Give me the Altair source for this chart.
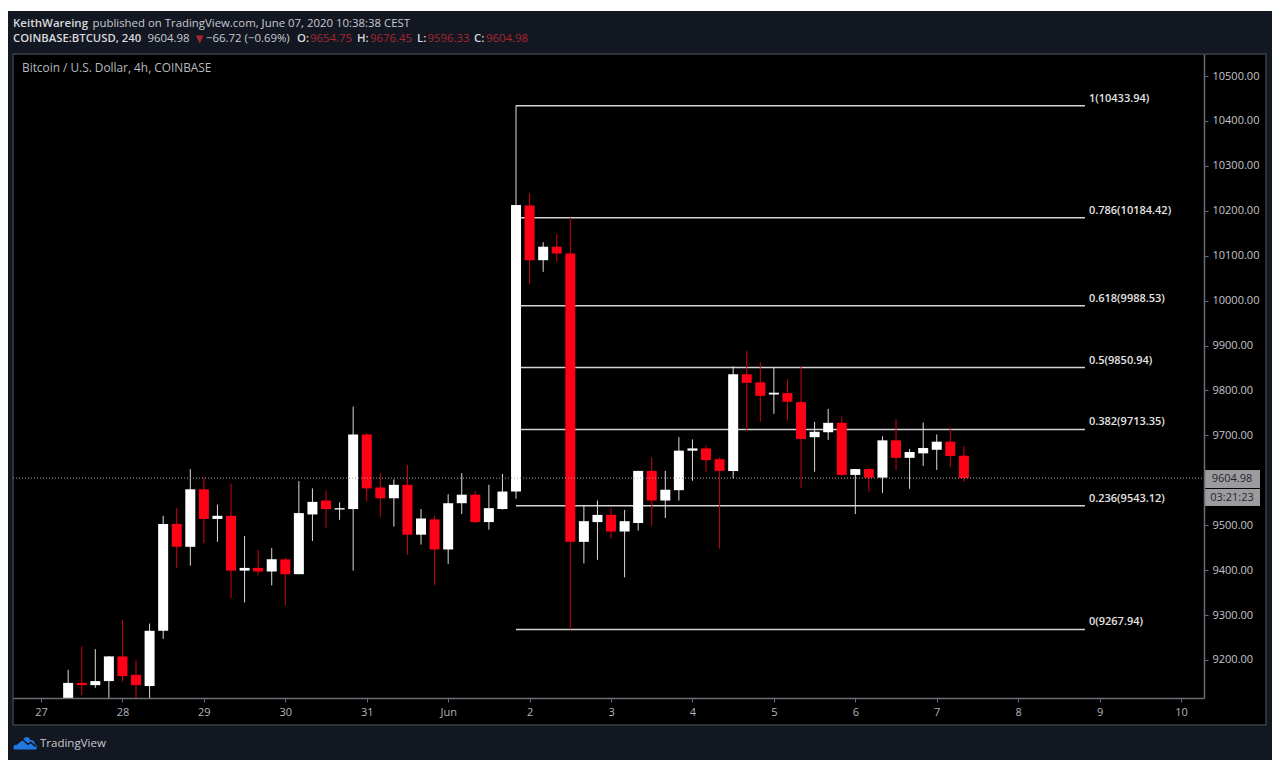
import altair as alt
import pandas as pd

opens = [9100,9149,9144,9153,9208,9167,9142,9265,9503,9452,9580,9514,9521,9399,9405,9397,9424,
         9391,9524,9555,9535,9536,9702,9584,9560,9590,9479,9513,9446,9549,9568,9507,9536,9575,
         10212,10090,10120,10105,9463,9507,9523,9486,9505,9621,9555,9578,9666,9671,9647,9621,
         9836,9818,9791,9794,9774,9696,9707,9728,9612,9625,9606,9689,9650,9660,9668,9686,9654.75]
closes = [9149,9144,9153,9208,9164,9144,9265,9503,9452,9580,9514,9521,9399,9405,9397,9424,9391,
          9527,9552,9536,9538,9702,9582,9560,9590,9479,9515,9446,9549,9568,9507,9538,9575,10213,
          10090,10120,10105,9463,9509,9523,9486,9509,9621,9555,9579,9666,9671,9645,9621,9836,
          9817,9788,9795,9775,9692,9708,9728,9612,9625,9606,9689,9650,9663,9672,9686,9654,9604.98]
highs = [9178,9230,9224,9209,9289,9200,9281,9521,9538,9625,9608,9546,9593,9476,9445,9449,9428,
         9598,9582,9577,9551,9764,9705,9616,9602,9634,9536,9521,9569,9616,9576,9590,9614,10435,
         10239,10130,10148,10185,9545,9555,9538,9534,9621,9651,9621,9696,9691,9678,9651,9854,
         9888,9863,9850,9825,9855,9730,9759,9742,9625,9627,9698,9736,9670,9729,9702,9717,9676.45]
lows = [9090,9122,9138,9100,9152,9116,9100,9247,9405,9410,9460,9463,9338,9328,9389,9366,9322,
        9391,9465,9494,9512,9399,9553,9519,9497,9434,9457,9367,9414,9525,9505,9490,9535,9559,
        10037,10064,10087,9268,9415,9423,9470,9384,9488,9499,9516,9555,9599,9618,9448,9604,
        9710,9730,9748,9733,9583,9619,9690,9610,9525,9575,9572,9623,9581,9632,9623,9629,9596.33]
first_bar = 2  # bars are counted in 4-hour steps from day 27
bar_days = [27 + (first_bar + i) / 6 for i in range(len(opens))]

fib_levels = ["1", "0.786", "0.618", "0.5", "0.382", "0.236", "0"]
fib_prices = [10433.94, 10184.42, 9988.53, 9850.94, 9713.35, 9543.12, 9267.94]
price_ticks = [9200,9300,9400,9500,9700,9800,9900,10000,10100,10200,10300,10400,10500]
day_ticks = list(range(27, 42))
last_price = 9604.98

NAVY, BLACK, FRAME, AXIS = "#131722", "#000000", "#3c3f48", "#6a6d75"
UP, DOWN = "#ffffff", "#ff0016"
FONT = "Open Sans"

df = pd.DataFrame({"d": bar_days, "o": opens, "c": closes, "h": highs, "l": lows})
df["dir"] = ["up" if c >= o else "down" for o, c in zip(opens, closes)]

xs = alt.Scale(domain=[26.656, 41.282], nice=False, zero=False, padding=0)
ys = alt.Scale(domain=[9115.4, 10549.0], nice=False, zero=False)
one = alt.Data(values=[{"a": 1}])


def rect(x, x2, y, y2, **kw):
    return alt.Chart(one).mark_rect(**kw).encode(
        x=alt.value(x), x2=alt.value(x2), y=alt.value(y), y2=alt.value(y2))


def label(s, x, y, color="#d9dadc", size=11.4, weight="normal", align="left"):
    return alt.Chart(one).mark_text(text=s, color=color, fontSize=size, fontWeight=weight,
                                    font=FONT, align=align, baseline="middle").encode(
        x=alt.value(x), y=alt.value(y))


# coordinates of page furniture are relative to the plot origin at page (13, 54)
panel = rect(-5, 1259, -43, 706, color=NAVY)
frame = rect(0, 1253, 0, 671, fill=BLACK, stroke=FRAME, strokeWidth=1.5)

wicks = alt.Chart(df).mark_rule(strokeWidth=1, clip=True).encode(
    x=alt.X("d:Q", scale=xs, title=None, axis=alt.Axis(
        values=day_ticks, orient="bottom", zindex=1, grid=False, title=None,
        labelExpr="datum.value == 32 ? 'Jun' : (datum.value > 32 ? datum.value - 31 : datum.value)",
        labelColor="#b2b5bb", labelFont=FONT, labelFontSize=11, labelPadding=4,
        tickColor=AXIS, tickSize=4, domainColor=AXIS, domainWidth=1.5, labelFlush=False)),
    y=alt.Y("l:Q", scale=ys, title=None, axis=alt.Axis(
        values=price_ticks, orient="right", zindex=1, grid=False, title=None, format=".2f",
        labelColor="#c4c6cb", labelFont=FONT, labelFontSize=11, labelPadding=4,
        tickColor=AXIS, tickSize=4, domainColor=AXIS, domainWidth=1.5)),
    y2="h:Q",
    color=alt.Color("dir:N", legend=None,
                    scale=alt.Scale(domain=["up", "down"], range=["#dcdcdc", "#d40012"])),
)
bodies = alt.Chart(df).mark_bar(size=10, clip=True).encode(
    x=alt.X("d:Q", scale=xs),
    y=alt.Y("o:Q", scale=ys),
    y2="c:Q",
    color=alt.Color("dir:N", legend=None, scale=alt.Scale(domain=["up", "down"], range=[UP, DOWN])),
)

fib_df = pd.DataFrame({"level": fib_levels, "p": fib_prices})
fib_df["start"] = 32.833
fib_df["end"] = 39.82
fib_df["txt"] = [f"{l}({p:.2f})" for l, p in zip(fib_levels, fib_prices)]
fib_lines = alt.Chart(fib_df).mark_rule(color="#d4d4d4", strokeWidth=1.5).encode(
    x=alt.X("start:Q", scale=xs), x2="end:Q", y=alt.Y("p:Q", scale=ys))
fib_text = alt.Chart(fib_df).mark_text(
    align="left", dx=4, dy=-7, baseline="middle", color="#e4e4e4",
    font=FONT, fontSize=11, fontWeight=600).encode(
    x=alt.X("end:Q", scale=xs), y=alt.Y("p:Q", scale=ys), text="txt:N")

last_df = pd.DataFrame({"p": [last_price]})
last_line = alt.Chart(last_df).mark_rule(color="#a8a8a8", strokeWidth=1, strokeDash=[1, 2]).encode(
    y=alt.Y("p:Q", scale=ys), x=alt.value(0), x2=alt.value(1191))

price_box = rect(1191, 1247, 416, 434, color="#9c9c9e")
count_box = rect(1191, 1247, 435, 452, color="#9c9c9e")
price_txt = label("9604.98", 1219, 424.5, color="#25272c", size=11, align="center")
count_txt = label("03:21:23", 1219, 443.5, color="#25272c", size=11, align="center")

RED = "#a82630"
texts = [
    label("KeithWareing", 0, -30.5, weight=600, size=11.5),
    label("published on TradingView.com, June 07, 2020 10:38:38 CEST", 79.5, -30.5, color="#c9cacd"),
    label("COINBASE:BTCUSD, 240", 0, -15.5, weight=600, size=11.3),
    label("9604.98", 134.5, -15.5, color="#c9cacd"),
    label("\u25bc", 180, -15.5, color=RED, size=13),
    label("\u221266.72 (\u22120.69%)", 193, -15.5, color="#c9cacd"),
    label("O:", 284, -15.5, weight=600),
    label("9654.75", 297, -15.5, color=RED),
    label("H:", 344, -15.5, weight=600),
    label("9676.45", 357, -15.5, color=RED),
    label("L:", 404, -15.5, weight=600),
    label("9596.33", 414.5, -15.5, color=RED),
    label("C:", 461, -15.5, weight=600),
    label("9604.98", 473, -15.5, color=RED),
    label("Bitcoin / U.S. Dollar, 4h, COINBASE", 9, 14, color="#b8babf", size=11.85),
    label("TradingView", 27, 689.5, color="#c9cacd", size=11.5),
]

cloud = alt.Chart(one).mark_point(
    shape="M-1 0.45 C-1 0.1 -0.75 0 -0.6 0.02 C-0.5 -0.25 -0.3 -0.25 -0.2 -0.28 C-0.05 -0.6 0.3 -0.55 0.4 -0.25 "
          "C0.6 -0.3 0.8 -0.1 0.8 0.1 C1 0.15 1 0.55 0.8 0.55 L-0.75 0.55 C-0.9 0.55 -1 0.5 -1 0.45 Z",
    filled=True, fill="#2079e0", opacity=1, size=576).encode(
    x=alt.value(12.5), y=alt.value(689))
peaks = alt.Chart(one).mark_point(
    shape="M-0.85 0.15 L-0.25 -0.3 L0.2 0.1 L0.45 -0.05 L0.85 0.3",
    filled=False, stroke=NAVY, strokeWidth=1.5, opacity=1, size=576).encode(
    x=alt.value(12.5), y=alt.value(689))

chart = alt.layer(
    panel, frame, fib_lines, wicks, bodies, fib_text, last_line,
    price_box, count_box, price_txt, count_txt, *texts, cloud, peaks,
).resolve_scale(color="independent").properties(
    width=1191, height=644,
    padding={"left": 5, "top": 46, "right": 68, "bottom": 62},
    autosize=alt.AutoSizeParams(type="none"),
    background="white",
).configure_view(stroke=None)

chart.save("out.html", embed_options={"renderer": "svg", "actions": False})
